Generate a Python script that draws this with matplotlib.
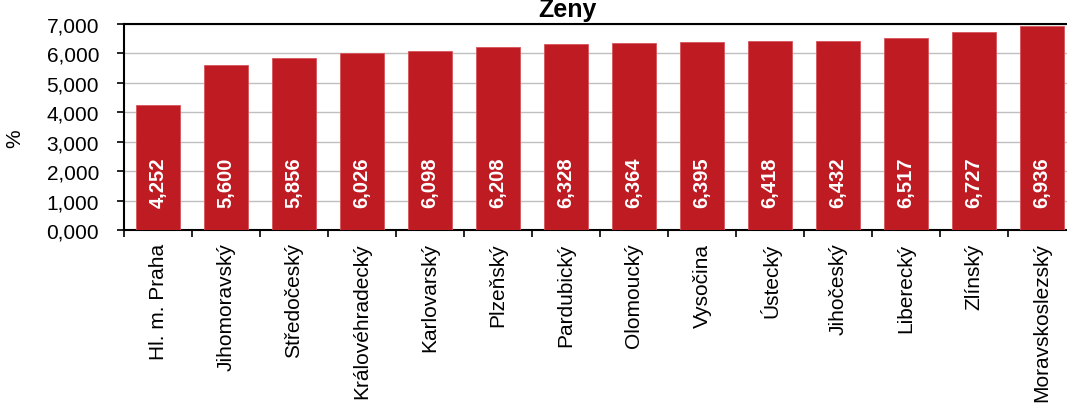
import matplotlib
matplotlib.use("Agg")
import matplotlib.pyplot as plt
import numpy as np
from matplotlib.ticker import FuncFormatter, FixedLocator

categories = ["Hl. m. Praha", "Jihomoravský", "Středočeský", "Královéhradecký",
              "Karlovarský", "Plzeňský", "Pardubický", "Olomoucký", "Vysočina",
              "Ústecký", "Jihočeský", "Liberecký", "Zlínský", "Moravskoslezský"]
values = [4.252, 5.600, 5.856, 6.026, 6.098, 6.208, 6.328, 6.364, 6.395,
          6.418, 6.432, 6.517, 6.727, 6.936]
title = "Ženy"
ylabel = "%"

plt.rcParams['font.family'] = ['Liberation Sans', 'DejaVu Sans']

W, H = 1067, 410
fig = plt.figure(figsize=(W / 100, H / 100), dpi=100)
left, right, top, bottom = 124, 1076, 25, 231
ax = fig.add_axes([left / W, (H - bottom) / H, (right - left) / W, (bottom - top) / H])

x = np.arange(len(categories))
bars = ax.bar(x, values, width=0.66, color='#BE1B23', edgecolor='#D8545A',
              linewidth=0.6, zorder=3)

ax.set_xlim(-0.5, len(categories) - 0.5)
ax.set_ylim(0, 7)
ax.set_yticks(np.arange(0, 8, 1))
ax.yaxis.set_major_formatter(FuncFormatter(lambda v, p: f"{v:.3f}".replace('.', ',')))
ax.grid(axis='y', color='#BFBFBF', linewidth=1.0, zorder=0)

ax.set_xticks(x)
ax.set_xticklabels(categories, rotation=90, fontsize=15)
ax.tick_params(axis='x', which='major', length=0, pad=9)
ax.xaxis.set_minor_locator(FixedLocator(np.arange(-0.5, len(categories), 1)))
ax.tick_params(axis='x', which='minor', length=5, width=1.2, direction='out')
ax.tick_params(axis='y', labelsize=15, length=5, width=1.2, direction='out', pad=13)

for s in ['left', 'bottom', 'top', 'right']:
    ax.spines[s].set_linewidth(1.5)
    ax.spines[s].set_color('black')

for xi, v in zip(x, values):
    ax.text(xi, 0.78, f"{v:.3f}".replace('.', ','), rotation=90, ha='center',
            va='bottom', color='white', fontsize=14.5, fontweight='bold', zorder=4)

fig.text(15 / W, 1 - 139 / H, ylabel, rotation=90, ha='center', va='center', fontsize=15)
fig.text(567 / W, 1 - 17 / H, title, ha='center', va='baseline', fontsize=18,
         fontweight='bold')

fig.savefig("out.png", dpi=100)
